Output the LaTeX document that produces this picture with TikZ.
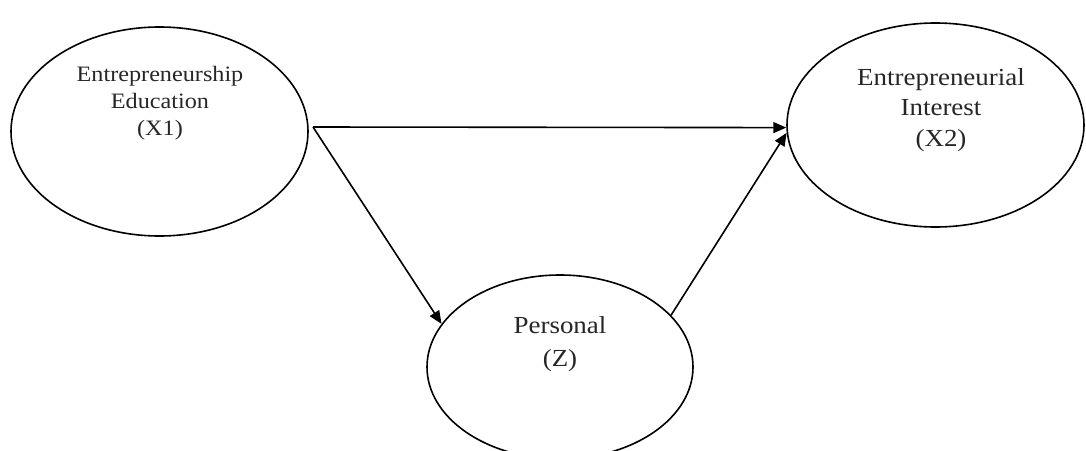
\documentclass[tikz,border=0pt]{standalone}
\usepackage{fontspec}
\setmainfont[FakeStretch=1.1]{Liberation Serif}
\usetikzlibrary{shapes.geometric,arrows.meta}
\begin{document}
\begin{tikzpicture}[x=1pt,y=-1pt,
  oval/.style={draw=black,line width=1.6pt,ellipse,inner sep=0pt},
  lbl/.style={align=center,inner sep=0pt,text=black!85},
  conn/.style={draw=black,line width=1.6pt,-{Triangle[length=13pt,width=11pt]}}]
\useasboundingbox (0,0) rectangle (1086,450);
\node[oval,minimum width=297pt,minimum height=209pt] (e1) at (159.5,131.5) {};
\node[oval,minimum width=297pt,minimum height=204pt] (e2) at (935.5,125) {};
\node[oval,minimum width=266pt,minimum height=184pt] (e3) at (560,367) {};
\node[lbl,font=\fontsize{22}{27}\selectfont] (t1) at (160,103) {Entrepreneurship\\Education\\(X1)};
\node[lbl,font=\fontsize{24.5}{30.5}\selectfont] (t2) at (941,110) {Entrepreneurial\\Interest\\(X2)};
\node[lbl,font=\fontsize{24.5}{33}\selectfont] (t3) at (560,344) {Personal\\(Z)};
\coordinate (s) at (313,127);
\draw[conn] (s) -- (e2.181);
\draw[conn] (s) -- (e3.160);
\draw[conn] (e3.25) -- (e2.183);
\end{tikzpicture}
\end{document}
